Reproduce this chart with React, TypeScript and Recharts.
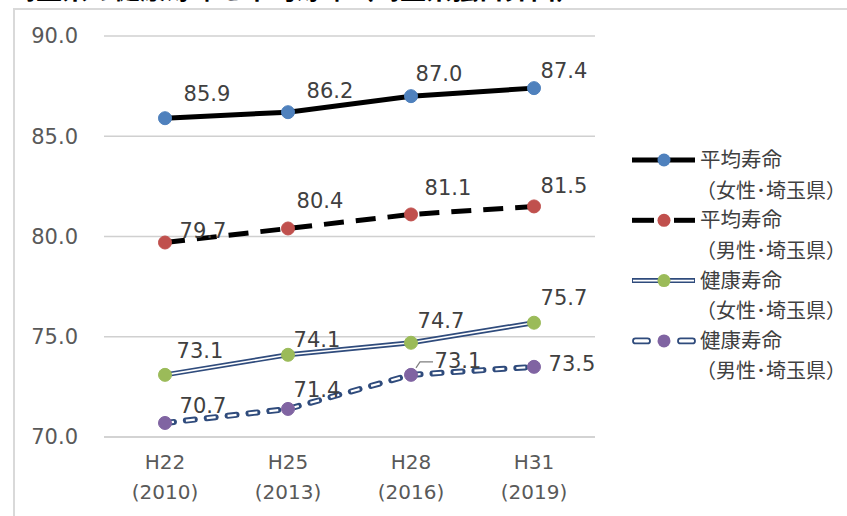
import { LineChart, Line, XAxis, YAxis, CartesianGrid, Legend, LabelList } from "recharts";

// 年次（元号と西暦）
const eras = ["H22", "H25", "H28", "H31"];
const years = ["(2010)", "(2013)", "(2016)", "(2019)"];

// 平均寿命・健康寿命（埼玉県）
const femaleLife = [85.9, 86.2, 87.0, 87.4];
const maleLife = [79.7, 80.4, 81.1, 81.5];
const femaleHealthy = [73.1, 74.1, 74.7, 75.7];
const maleHealthy = [70.7, 71.4, 73.1, 73.5];

const yTicks = [70, 75, 80, 85, 90];

const legendItems = [
  { name: "平均寿命", sub: "（女性･埼玉県）", kind: "solid", dot: "#4F81BD" },
  { name: "平均寿命", sub: "（男性･埼玉県）", kind: "dash", dot: "#C0504D" },
  { name: "健康寿命", sub: "（女性･埼玉県）", kind: "double", dot: "#9BBB59" },
  { name: "健康寿命", sub: "（男性･埼玉県）", kind: "doubleDash", dot: "#8064A2" },
];

const data = eras.map((era, i) => ({
  era,
  femaleLife: femaleLife[i],
  maleLife: maleLife[i],
  femaleHealthy: femaleHealthy[i],
  maleHealthy: maleHealthy[i],
}));

const NUM_FONT = "'DejaVu Sans', 'Noto Sans CJK JP', sans-serif";
const JP_FONT = "'Noto Sans CJK JP', sans-serif";
const NAVY = "#2F4B7C";

// ラベルの位置ずらし（点からの dx, dy）
const nudges: Record<string, number[][]> = {
  femaleLife: [[42, -24], [42, -21], [28, -22], [30, -17]],
  maleLife: [[38, -12], [32, -27], [37, -26], [30, -20]],
  femaleHealthy: [[35, -24], [29, -15], [30, -22], [30, -25]],
  maleHealthy: [[38, -17], [29, -19], [47, -14], [38, -3]],
};

const makeLabel = (key: string) => (props: any) => {
  const { x, y, value, index } = props;
  const [dx, dy] = nudges[key][index] || [0, -20];
  const leader = key === "maleHealthy" && index === 2;
  return (
    <g>
      {leader && (
        <polyline
          points={`${x + 5},${y - 7} ${x + 9},${y - 13} ${x + 22},${y - 13}`}
          fill="none"
          stroke="#7f7f7f"
          strokeWidth={1.2}
        />
      )}
      <text
        x={x + dx}
        y={y + dy}
        textAnchor="middle"
        dominantBaseline="central"
        fontSize={21}
        fontFamily={NUM_FONT}
        fill="#404040"
      >
        {Number(value).toFixed(1)}
      </text>
    </g>
  );
};

const EraTick = (props: any) => {
  const { x, y, payload } = props;
  const i = eras.indexOf(payload.value);
  return (
    <g fontFamily={NUM_FONT} fontSize={20} fill="#595959">
      <text x={x} y={y + 32} textAnchor="middle" fill="#595959">
        {payload.value}
      </text>
      <text x={x} y={y + 62} textAnchor="middle" fill="#595959">
        {years[i]}
      </text>
    </g>
  );
};

const LegendIcon = ({ kind, dot, y }: { kind: string; dot: string; y: number }) => {
  let line = null;
  if (kind === "solid") {
    line = <line x1={2} x2={65} y1={y} y2={y} stroke="#000" strokeWidth={5} />;
  } else if (kind === "dash") {
    line = (
      <g stroke="#000" strokeWidth={5}>
        <line x1={2} x2={24} y1={y} y2={y} />
        <line x1={44} x2={65} y1={y} y2={y} />
      </g>
    );
  } else if (kind === "double") {
    line = (
      <g>
        <line x1={2} x2={65} y1={y} y2={y} stroke={NAVY} strokeWidth={5} />
        <line x1={3} x2={64} y1={y} y2={y} stroke="#fff" strokeWidth={1.6} />
      </g>
    );
  } else {
    line = (
      <g fill="#fff" stroke={NAVY} strokeWidth={1.8}>
        <rect x={3} y={y - 2.5} width={17} height={5} rx={2.5} />
        <rect x={48} y={y - 2.5} width={17} height={5} rx={2.5} />
      </g>
    );
  }
  return (
    <g>
      {line}
      <circle cx={34} cy={y} r={6.5} fill={dot} />
    </g>
  );
};

const LegendBox = () => (
  <svg width={217} height={260} style={{ display: "block", overflow: "visible" }}>
    {legendItems.map((item, i) => {
      const y = 20 + 60.3 * i;
      return (
        <g key={i}>
          <LegendIcon kind={item.kind} dot={item.dot} y={y} />
          <text x={70} y={y - 2} dominantBaseline="central" fontSize={20.5} fontFamily={JP_FONT} fill="#404040">
            {item.name}
          </text>
          <text x={66} y={y + 29} dominantBaseline="central" fontSize={20} fontFamily={JP_FONT} fill="#404040">
            {item.sub}
          </text>
        </g>
      );
    })}
  </svg>
);

export default function App() {
  return (
    <div
      style={{
        position: "absolute",
        left: 0,
        top: 0,
        width: 847,
        height: 516,
        overflow: "hidden",
        background: "#fff",
      }}
    >
      <div
        style={{
          position: "absolute",
          left: 10,
          top: -25,
          fontSize: 26,
          lineHeight: "26px",
          fontWeight: 700,
          fontFamily: JP_FONT,
          color: "#000",
          whiteSpace: "nowrap",
        }}
      >
        埼玉県の健康寿命と平均寿命（埼玉県独自算出）
      </div>
      <div
        style={{
          position: "absolute",
          left: 13,
          top: 8,
          width: 900,
          height: 600,
          border: "2px solid #d9d9d9",
          boxSizing: "border-box",
        }}
      />
      <div style={{ position: "absolute", left: 0, top: 0 }}>
        <LineChart width={847} height={516} data={data} margin={{ top: 36, right: 252, bottom: 0, left: 0 }}>
          <CartesianGrid vertical={false} stroke="#d0d0d0" strokeWidth={1.5} />
          <XAxis
            dataKey="era"
            height={79}
            padding={{ left: 61, right: 61 }}
            tickLine={false}
            tickSize={0}
            tickMargin={0}
            axisLine={{ stroke: "#d0d0d0", strokeWidth: 1.5 }}
            tick={<EraTick />}
            interval={0}
          />
          <YAxis
            width={104}
            domain={[70, 90]}
            ticks={yTicks}
            axisLine={false}
            tickLine={false}
            tickSize={0}
            tickMargin={26}
            tickFormatter={(v: number) => v.toFixed(1)}
            tick={{ fill: "#595959", fontSize: 21, fontFamily: NUM_FONT }}
          />
          <Legend
            layout="vertical"
            align="center"
            verticalAlign="middle"
            content={() => <LegendBox />}
            wrapperStyle={{ left: 630, top: 140, width: 217 }}
          />

          {/* 平均寿命（女性） */}
          <Line
            type="linear"
            dataKey="femaleLife"
            stroke="#000"
            strokeWidth={5}
            dot={{ r: 6.5, fill: "#4F81BD", stroke: "#4F81BD", strokeWidth: 1 }}
            isAnimationActive={false}
          >
            <LabelList dataKey="femaleLife" content={makeLabel("femaleLife")} />
          </Line>

          {/* 平均寿命（男性） */}
          <Line
            type="linear"
            dataKey="maleLife"
            stroke="#000"
            strokeWidth={5}
            strokeDasharray="20 12"
            dot={{ r: 6.5, fill: "#C0504D", stroke: "#C0504D", strokeWidth: 1, strokeDasharray: "" }}
            isAnimationActive={false}
          >
            <LabelList dataKey="maleLife" content={makeLabel("maleLife")} />
          </Line>

          {/* 健康寿命（女性）：二重線 */}
          <Line
            type="linear"
            dataKey="femaleHealthy"
            stroke={NAVY}
            strokeWidth={5}
            dot={false}
            isAnimationActive={false}
          />
          <Line
            type="linear"
            dataKey="femaleHealthy"
            stroke="#fff"
            strokeWidth={1.6}
            dot={{ r: 6.5, fill: "#9BBB59", stroke: "#9BBB59", strokeWidth: 1 }}
            isAnimationActive={false}
          >
            <LabelList dataKey="femaleHealthy" content={makeLabel("femaleHealthy")} />
          </Line>

          {/* 健康寿命（男性）：二重破線 */}
          <Line
            type="linear"
            dataKey="maleHealthy"
            stroke={NAVY}
            strokeWidth={6}
            strokeDasharray="9 12"
            strokeLinecap="round"
            dot={false}
            isAnimationActive={false}
          />
          <Line
            type="linear"
            dataKey="maleHealthy"
            stroke="#fff"
            strokeWidth={2.2}
            strokeDasharray="9 12"
            dot={{ r: 6.5, fill: "#8064A2", stroke: "#8064A2", strokeWidth: 1, strokeDasharray: "" }}
            isAnimationActive={false}
          >
            <LabelList dataKey="maleHealthy" content={makeLabel("maleHealthy")} />
          </Line>
        </LineChart>
      </div>
    </div>
  );
}
